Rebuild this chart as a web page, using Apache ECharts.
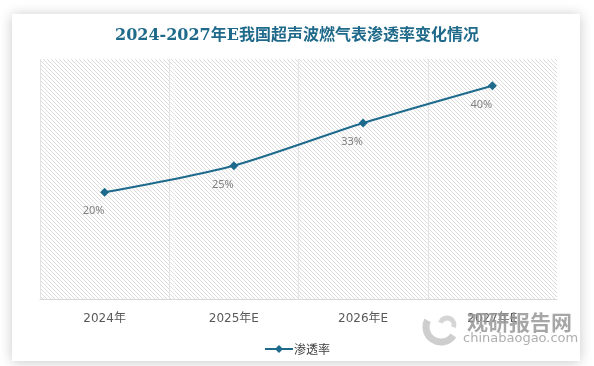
<!DOCTYPE html>
<html>
<head>
<meta charset="utf-8">
<script src="https://cdn.jsdelivr.net/npm/echarts@6/dist/echarts.min.js"></script>
<style>
html,body{margin:0;padding:0;background:#ffffff;}
#chart{width:594px;height:366px;}
</style>
</head>
<body>
<div id="chart"></div>
<script>
var titleText = '2024-2027年E我国超声波燃气表渗透率变化情况';
var categories = ['2024年', '2025年E', '2026年E', '2027年E'];
var seriesName = '渗透率';
var values = [20, 25, 33, 40];
var valueLabels = ['20%', '25%', '33%', '40%'];

// hatch pattern
var pc = document.createElement('canvas');
pc.width = 4; pc.height = 4;
var pctx = pc.getContext('2d');
pctx.fillStyle = '#ffffff';
pctx.fillRect(0, 0, 4, 4);
pctx.fillStyle = '#dcdcdc';
for (var i = 0; i < 4; i++) { pctx.fillRect(i, i, 1, 1); }

var chart = echarts.init(document.getElementById('chart'));
var lineColor = '#1d6a8c';
chart.setOption({
  backgroundColor: '#ffffff',
  animation: false,
  title: {
    text: titleText,
    left: 'center',
    top: 23,
    textStyle: {
      fontFamily: '"DejaVu Serif", "Noto Sans CJK SC", serif',
      fontWeight: 'bold',
      fontSize: 16,
      color: '#1f6a8a'
    }
  },
  graphic: [
    {
      type: 'rect', z: -100, silent: true,
      shape: {x: 12, y: 14, width: 568, height: 347},
      style: {fill: '#ffffff', shadowBlur: 12, shadowColor: 'rgba(0,0,0,0.22)', shadowOffsetX: 0, shadowOffsetY: 1}
    },
    {
      type: 'arc', z: 50, silent: true,
      shape: {cx: 441, cy: 327, r: 15, startAngle: 0.6, endAngle: 3.6},
      style: {stroke: 'rgba(185,185,185,0.7)', lineWidth: 7, fill: null}
    },
    {
      type: 'arc', z: 50, silent: true,
      shape: {cx: 447, cy: 325, r: 7, startAngle: 3.5, endAngle: 6.6},
      style: {stroke: 'rgba(195,195,195,0.7)', lineWidth: 5, fill: null}
    },
    {
      type: 'text', z: 50, silent: true,
      style: {x: 467, y: 322, text: '观研报告网', fill: 'rgba(150,150,150,0.85)',
        font: 'bold 21px "Noto Sans CJK SC", sans-serif', verticalAlign: 'middle'}
    },
    {
      type: 'text', z: 50, silent: true,
      style: {x: 463, y: 339, text: 'chinabaogao.com', fill: 'rgba(160,160,160,0.85)',
        font: '13px "DejaVu Sans", sans-serif', verticalAlign: 'middle'}
    }
  ],
  legend: {
    data: [seriesName],
    top: 338,
    left: 'center',
    itemWidth: 28,
    itemHeight: 10,
    itemGap: 4,
    textStyle: {fontSize: 12, color: '#404040', fontFamily: '"Noto Sans CJK SC", sans-serif', padding: [0,0,0,-4]}
  },
  grid: {
    left: 40, right: 37, top: 59, bottom: 67,
    show: true,
    borderWidth: 0,
    backgroundColor: {image: pc, repeat: 'repeat'}
  },
  xAxis: {
    type: 'category',
    data: categories,
    boundaryGap: true,
    axisLine: {lineStyle: {color: '#d9d9d9', width: 1}},
    axisTick: {show: false},
    axisLabel: {
      margin: 14,
      fontSize: 12,
      color: '#595959',
      fontFamily: '"DejaVu Sans", "Noto Sans CJK SC", sans-serif'
    },
    splitLine: {show: true, showMaxLine: false, lineStyle: {color: '#e3e3e3', width: 1}}
  },
  yAxis: {
    type: 'value',
    min: 0, max: 45,
    show: false,
    splitLine: {show: false}
  },
  series: [{
    name: seriesName,
    type: 'line',
    data: values,
    smooth: 0.25,
    symbol: 'diamond',
    symbolSize: 9,
    itemStyle: {color: lineColor},
    lineStyle: {color: lineColor, width: 2},
    label: {
      show: true,
      position: 'bottom',
      offset: [-11, 4],
      fontSize: 11,
      color: '#7f7f7f',
      fontFamily: '"Noto Sans", sans-serif',
      formatter: function (p) { return valueLabels[p.dataIndex]; }
    }
  }]
});
</script>
</body>
</html>
